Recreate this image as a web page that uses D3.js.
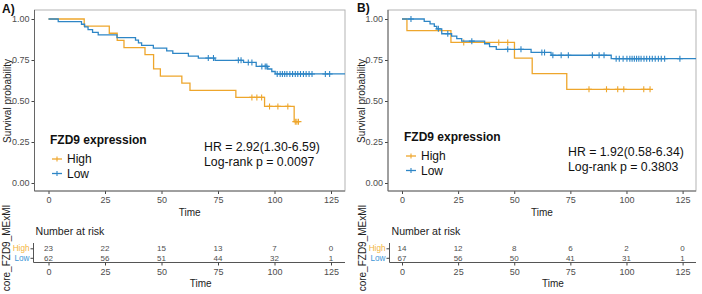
<!DOCTYPE html>
<html>
<head>
<meta charset="utf-8">
<script src="https://cdn.jsdelivr.net/npm/d3@7"></script>
<style>
  body { margin: 0; background: #fff; }
  svg { display: block; font-family: "Liberation Sans", Arial, sans-serif; }
</style>
</head>
<body>
<svg id="chart" width="702" height="294"></svg>
<script>
/* Daten */
const timeTicks = [0, 25, 50, 75, 100, 125];
const survTicks = [0, 0.25, 0.5, 0.75, 1];
const groups = ["High", "Low"];

// Panel A
const aHighTimes = [0, 15.8, 26.9, 30.4, 33.4, 42.7, 46.5, 49.5, 59.0, 62.6, 82.9, 95.6, 108.7];
const aHighSurv  = [1, 0.957, 0.913, 0.870, 0.826, 0.783, 0.696, 0.652, 0.609, 0.565, 0.522, 0.467, 0.374];
const aHighCens  = [90.0, 92.2, 94.3, 97.8, 101.5, 105.9, 109.2, 109.9, 110.6];
const aLowTimes  = [0, 4.3, 14.6, 16.0, 17.5, 19.5, 22.0, 30.3, 38.5, 39.8, 41.2, 46.4, 52.3, 55.0, 61.9, 66.3, 73.7, 86.3, 91.9, 97.0, 98.8, 100.3];
const aLowSurv   = [1, 0.984, 0.968, 0.952, 0.935, 0.919, 0.903, 0.887, 0.871, 0.855, 0.839, 0.823, 0.806, 0.790, 0.774, 0.762, 0.748, 0.735, 0.711, 0.695, 0.680, 0.665];
const aLowCens   = [70.7, 73.0, 84.0, 85.2, 88.4, 90.0, 94.4, 95.9, 96.6, 101.2, 102.5, 103.5, 104.5, 105.5, 106.8, 108.0, 109.2, 110.3, 111.5, 112.8, 114.0, 115.3, 116.6, 122.5, 124.4, 135];
const aRiskHigh  = [23, 22, 15, 13, 7, 0];
const aRiskLow   = [62, 56, 51, 44, 32, 1];
const aStats     = ["HR = 2.92(1.30-6.59)", "Log-rank p = 0.0097"];

// Panel B
const bHighTimes = [0, 2.2, 21.8, 50.1, 58.0, 73.4];
const bHighSurv  = [1, 0.929, 0.857, 0.762, 0.667, 0.571];
const bHighCens  = [27.5, 43.1, 47.1, 83.3, 91.1, 96.1, 98.8, 107.7, 110.5];
const bLowTimes  = [0, 9.9, 12.5, 14.4, 15.5, 17.7, 22.1, 24.4, 26.6, 36.8, 39.0, 42.0, 57.5, 66.4, 93.2];
const bLowSurv   = [1, 0.985, 0.970, 0.955, 0.940, 0.910, 0.895, 0.880, 0.865, 0.849, 0.832, 0.815, 0.796, 0.779, 0.758];
const bLowCens   = [4.0, 16.2, 20.4, 31.1, 47.1, 53.0, 62.3, 63.5, 67.2, 70.9, 74.1, 84.8, 87.8, 90.0, 95.4, 96.8, 98.5, 100.2, 101.5, 102.5, 103.5, 104.5, 105.5, 106.5, 107.8, 109.0, 110.3, 111.5, 112.8, 114.2, 115.5, 117.0, 123.8, 135];
const bRiskHigh  = [14, 12, 8, 6, 2, 0];
const bRiskLow   = [67, 56, 50, 41, 31, 1];
const bStats     = ["HR = 1.92(0.58-6.34)", "Log-rank p = 0.3803"];

const colHigh = "#EEA62C";
const colLow = "#2E86C6";
const colHighLab = "#F2B440";
const colLowLab = "#3C96D6";

const svg = d3.select("#chart");

/* Überlebenswert zu einem Zeitpunkt */
function survAt(times, surv, t) {
  let i = d3.bisectRight(times, t) - 1;
  return surv[Math.max(0, i)];
}

function drawPanel(cfg) {
  const x = d3.scaleLinear().domain([0, 125]).range([cfg.x0, cfg.x125]);
  const y = d3.scaleLinear().domain([0, 1]).range([183, 19]);
  const top = 10, bottom = 191;

  const g = svg.append("g");

  // panel label
  g.append("text").attr("x", cfg.labX).attr("y", cfg.labY)
    .attr("font-size", 12).attr("font-weight", "bold").attr("fill", "#111")
    .text(cfg.label);

  // clip
  const clipId = "clip" + cfg.label.replace(")", "");
  svg.append("clipPath").attr("id", clipId)
    .append("rect").attr("x", cfg.left).attr("y", top)
    .attr("width", cfg.right - cfg.left).attr("height", bottom - top);

  // border
  g.append("rect").attr("x", cfg.left).attr("y", top)
    .attr("width", cfg.right - cfg.left).attr("height", bottom - top)
    .attr("fill", "none").attr("stroke", "#b3b3b3").attr("stroke-width", 1);

  // axes
  const yAxis = g.append("g").attr("transform", `translate(${cfg.left},0)`)
    .call(d3.axisLeft(y).tickValues(survTicks).tickFormat(d3.format(".2f")).tickSize(3).tickPadding(2));
  const xAxis = g.append("g").attr("transform", `translate(0,${bottom})`)
    .call(d3.axisBottom(x).tickValues(timeTicks).tickSize(3).tickPadding(3));
  [yAxis, xAxis].forEach(a => {
    a.select(".domain").remove();
    a.selectAll("line").attr("stroke", "#444");
    a.selectAll("text").attr("fill", "#4d4d4d").attr("font-size", 9)
      .attr("font-family", "Liberation Sans, Arial, sans-serif");
  });
  g.append("line").attr("x1", cfg.left).attr("x2", cfg.left).attr("y1", top).attr("y2", bottom)
    .attr("stroke", "#666");
  g.append("line").attr("x1", cfg.left).attr("x2", cfg.right).attr("y1", bottom).attr("y2", bottom)
    .attr("stroke", "#666");

  g.append("text").attr("transform", `translate(${cfg.left - 27},101) rotate(-90)`)
    .attr("text-anchor", "middle").attr("dy", "0.35em")
    .attr("font-size", 10).attr("fill", "#222").text("Survival probability");
  g.append("text").attr("x", (cfg.left + cfg.right) / 2).attr("y", 212)
    .attr("text-anchor", "middle").attr("dy", "0.35em")
    .attr("font-size", 10).attr("fill", "#222").text("Time");

  // curves
  const line = d3.line().x(d => x(d[0])).y(d => y(d[1])).curve(d3.curveStepAfter);
  const plot = g.append("g").attr("clip-path", `url(#${clipId})`);
  cfg.series.forEach(s => {
    const pts = s.times.map((t, i) => [t, s.surv[i]]);
    pts.push([d3.max(s.cens), s.surv[s.surv.length - 1]]);
    plot.append("path").attr("d", line(pts)).attr("fill", "none")
      .attr("stroke", s.color).attr("stroke-width", 1.3);
    plot.selectAll(null).data(s.cens).enter().append("path")
      .attr("d", t => {
        const cx = x(t), cy = y(survAt(s.times, s.surv, t));
        return `M${cx - 3},${cy}H${cx + 3}M${cx},${cy - 3}V${cy + 3}`;
      })
      .attr("stroke", s.color).attr("stroke-width", 1.1);
  });

  // legend
  g.append("text").attr("x", cfg.legX).attr("y", cfg.legY).attr("dy", "0.35em")
    .attr("font-size", 12).attr("font-weight", "bold").attr("fill", "#111").text("FZD9 expression");
  cfg.series.forEach((s, i) => {
    const ly = cfg.legY + 19 + i * 14.5;
    const kx = cfg.legX + 2;
    g.append("line").attr("x1", kx).attr("x2", kx + 10).attr("y1", ly).attr("y2", ly)
      .attr("stroke", s.color).attr("stroke-width", 1.3);
    g.append("path").attr("d", `M${kx + 5},${ly - 2.5}V${ly + 2.5}`)
      .attr("stroke", s.color).attr("stroke-width", 1.1);
    g.append("text").attr("x", kx + 15).attr("y", ly).attr("dy", "0.35em")
      .attr("font-size", 12).attr("fill", "#111").text(groups[i]);
  });

  // stats
  cfg.stats.forEach((t, i) => {
    g.append("text").attr("x", cfg.statX).attr("y", cfg.statY + i * 14.5).attr("dy", "0.35em")
      .attr("font-size", 12.3).attr("fill", "#111").text(t);
  });

  // risk table
  const tTop = 243, tBot = 262.5;
  const rowY = d3.scalePoint().domain(groups).range([248.3, 257.8]);
  g.append("text").attr("x", cfg.tLeft + 2).attr("y", 231.5).attr("dy", "0.35em")
    .attr("font-size", 10.6).attr("fill", "#222").text("Number at risk");
  g.append("line").attr("x1", cfg.tLeft).attr("x2", cfg.tLeft).attr("y1", tTop).attr("y2", tBot)
    .attr("stroke", "#555");
  g.append("line").attr("x1", cfg.tLeft).attr("x2", cfg.right).attr("y1", tBot).attr("y2", tBot)
    .attr("stroke", "#555");
  const tY = g.append("g").attr("transform", `translate(${cfg.tLeft},0)`)
    .call(d3.axisLeft(rowY).tickSize(3).tickPadding(1));
  tY.select(".domain").remove();
  tY.selectAll("line").attr("stroke", "#444");
  tY.selectAll("text").attr("font-size", 8.2)
    .attr("font-family", "Liberation Sans, Arial, sans-serif")
    .attr("fill", d => d === "High" ? colHighLab : colLowLab);
  const tX = g.append("g").attr("transform", `translate(0,${tBot})`)
    .call(d3.axisBottom(x).tickValues(timeTicks).tickSize(3).tickPadding(3));
  tX.select(".domain").remove();
  tX.selectAll("line").attr("stroke", "#444");
  tX.selectAll("text").attr("fill", "#4d4d4d").attr("font-size", 9)
    .attr("font-family", "Liberation Sans, Arial, sans-serif");
  g.append("text").attr("x", (cfg.left + cfg.right) / 2).attr("y", 283).attr("dy", "0.35em")
    .attr("font-size", 10).attr("fill", "#222").text("Time");
  [cfg.riskHigh, cfg.riskLow].forEach((row, r) => {
    g.selectAll(null).data(row).enter().append("text")
      .attr("x", (d, i) => x(timeTicks[i])).attr("y", rowY(groups[r])).attr("dy", "0.35em")
      .attr("text-anchor", "middle").attr("font-size", 8).attr("fill", "#4d4d4d")
      .text(d => d);
  });
  g.append("text").attr("transform", `translate(${cfg.tLeft - 27},248) rotate(-90)`)
    .attr("text-anchor", "middle").attr("dy", "0.35em")
    .attr("font-size", 10).attr("fill", "#222").text("core_FZD9_MExMI");
}

drawPanel({
  label: "A)", labX: 2, labY: 13,
  left: 34.5, right: 345, x0: 48.5, x125: 331, tLeft: 33.5,
  legX: 50, legY: 140, statX: 204, statY: 147,
  stats: aStats, riskHigh: aRiskHigh, riskLow: aRiskLow,
  series: [
    { times: aHighTimes, surv: aHighSurv, cens: aHighCens, color: colHigh },
    { times: aLowTimes, surv: aLowSurv, cens: aLowCens, color: colLow }
  ]
});

drawPanel({
  label: "B)", labX: 357, labY: 12,
  left: 388, right: 696, x0: 402, x125: 682.6, tLeft: 389.5,
  legX: 404, legY: 137, statX: 568, statY: 152,
  stats: bStats, riskHigh: bRiskHigh, riskLow: bRiskLow,
  series: [
    { times: bHighTimes, surv: bHighSurv, cens: bHighCens, color: colHigh },
    { times: bLowTimes, surv: bLowSurv, cens: bLowCens, color: colLow }
  ]
});
</script>
</body>
</html>
